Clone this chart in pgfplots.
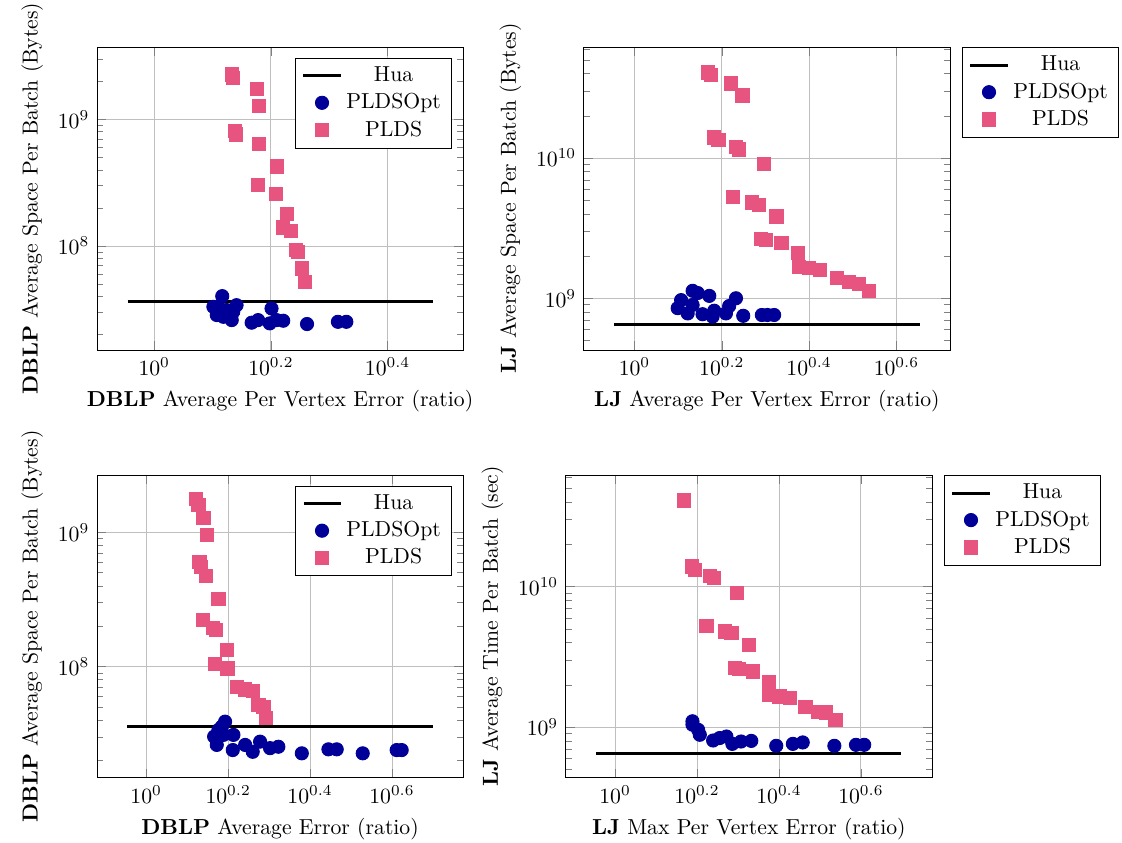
\documentclass[border=0pt]{standalone}
\usepackage{pgfplots}
\pgfplotsset{compat=1.18}
\usepackage{pgfplotstable}
\definecolor{optblue}{RGB}{0,0,153}
\definecolor{pldspink}{RGB}{231,84,128}

\pgfplotstableread{
x y
1.358 2.27e9
1.365 2.12e9
1.498 1.73e9
1.514 1.27e9
1.376 8.15e8
1.380 7.6e8
1.510 6.4e8
1.623 4.25e8
1.504 3.04e8
1.615 2.59e8
1.687 1.80e8
1.660 1.40e8
1.717 1.31e8
1.749 9.37e7
1.765 8.98e7
1.793 6.64e7
1.812 5.21e7
}\pldsA
\pgfplotstableread{
x y
1.308 4.02e7
1.288 3.31e7
1.384 3.41e7
1.263 3.31e7
1.331 3.12e7
1.280 2.85e7
1.314 2.76e7
1.358 2.60e7
1.366 3.02e7
1.469 2.48e7
1.507 2.60e7
1.589 3.21e7
1.578 2.45e7
1.621 2.60e7
1.664 2.57e7
1.828 2.42e7
2.065 2.52e7
2.135 2.52e7
}\optA
\pgfplotstableread{
x y
1.471 4.08e10
1.496 3.93e10
1.663 3.40e10
1.768 2.79e10
1.523 1.40e10
1.558 1.34e10
1.708 1.20e10
1.738 1.15e10
1.982 9.1e9
1.678 5.26e9
1.858 4.82e9
1.931 4.64e9
2.115 3.83e9
1.948 2.64e9
2.000 2.61e9
2.172 2.47e9
2.370 2.10e9
2.383 1.68e9
2.512 1.64e9
2.662 1.59e9
2.906 1.39e9
3.10 1.30e9
3.27 1.27e9
3.44 1.13e9
}\pldsB
\pgfplotstableread{
x y
1.359 1.13e9
1.396 1.09e9
1.279 9.7e8
1.484 1.04e9
1.256 8.5e8
1.324 7.8e8
1.359 8.96e8
1.432 7.7e8
1.523 8.15e8
1.510 7.4e8
1.620 7.8e8
1.648 8.8e8
1.708 1.0e9
1.775 7.5e8
1.958 7.6e8
2.017 7.6e8
2.089 7.6e8
}\optB
\pgfplotstableread{
x y
1.324 1.76e9
1.341 1.60e9
1.380 1.28e9
1.406 9.55e8
1.349 6.04e8
1.362 5.54e8
1.400 4.73e8
1.501 3.17e8
1.374 2.22e8
1.454 1.93e8
1.481 1.87e8
1.573 1.33e8
1.473 1.04e8
1.578 9.7e7
1.664 7.07e7
1.744 6.77e7
1.820 6.61e7
1.879 5.17e7
1.932 4.98e7
1.962 4.12e7
}\pldsC
\pgfplotstableread{
x y
1.558 3.89e7
1.530 3.57e7
1.501 3.37e7
1.465 3.01e7
1.633 3.10e7
1.544 3.10e7
1.487 2.61e7
1.627 2.39e7
1.744 2.61e7
1.820 2.32e7
1.897 2.76e7
2.006 2.47e7
2.102 2.53e7
2.398 2.26e7
2.785 2.42e7
2.918 2.42e7
3.377 2.26e7
4.087 2.39e7
4.204 2.39e7
}\optC
\pgfplotstableread{
x y
1.472 4.09e10
1.537 1.39e10
1.565 1.31e10
1.703 1.19e10
1.741 1.15e10
1.984 9.06e9
1.672 5.25e9
1.852 4.79e9
1.923 4.66e9
2.118 3.85e9
1.958 2.63e9
2.006 2.60e9
2.171 2.49e9
2.370 2.09e9
2.370 1.70e9
2.520 1.65e9
2.666 1.61e9
2.915 1.39e9
3.125 1.29e9
3.274 1.27e9
3.450 1.13e9
}\pldsD
\pgfplotstableread{
x y
1.545 1.10e9
1.545 1.04e9
1.595 9.57e8
1.610 8.82e8
1.735 8.03e8
1.800 8.36e8
1.870 8.57e8
1.933 7.6e8
2.030 7.9e8
2.150 7.98e8
2.474 7.36e8
2.716 7.6e8
2.871 7.78e8
3.430 7.36e8
3.873 7.48e8
4.056 7.48e8
}\optD

\pgfplotsset{
  scale only axis,
  width=168.7pt, height=139.6pt,
  legend cell align=center,
}

\begin{document}
\begin{tikzpicture}
\useasboundingbox (0,0) rectangle (517.1pt,388.5pt);

% Panel 1
\begin{loglogaxis}[at={(44.7pt,227.2pt)}, anchor=south west,
  grid=major,
  xtick={1,1.584893,2.511886},
  xticklabels={$10^{0}$,$10^{0.2}$,$10^{0.4}$},
  legend style={at={(0.97,0.965)}, anchor=north east},
  xmin=0.7978, xmax=3.384, ymin=1.51e7, ymax=3.73e9,
  xlabel={\textbf{DBLP} Average Per Vertex Error (ratio)},
  ylabel={\textbf{DBLP} Average Space Per Batch (Bytes)}]
\addplot[black, line width=1.4pt, no markers] coordinates {(0.9,3.65e7) (3,3.65e7)};
\addplot[only marks, mark=*, mark size=3.05pt, optblue] table {\optA};
\addplot[only marks, mark=square*, mark size=3.05pt, pldspink] table {\pldsA};
\legend{Hua,PLDSOpt,PLDS}
\end{loglogaxis}

% Panel 2
\begin{loglogaxis}[at={(269.1pt,227.2pt)}, anchor=south west,
  grid=major,
  xtick={1,1.584893,2.511886,3.981072},
  xticklabels={$10^{0}$,$10^{0.2}$,$10^{0.4}$,$10^{0.6}$},
  legend style={at={(1.033,1)}, anchor=north west},
  xmin=0.766, xmax=5.28, ymin=4.28e8, ymax=6.18e10,
  xlabel={\textbf{LJ} Average Per Vertex Error (ratio)},
  ylabel={\textbf{LJ} Average Space Per Batch (Bytes)}]
\addplot[black, line width=1.4pt, no markers] coordinates {(0.9,6.5e8) (4.5,6.5e8)};
\addplot[only marks, mark=*, mark size=3.05pt, optblue] table {\optB};
\addplot[only marks, mark=square*, mark size=3.05pt, pldspink] table {\pldsB};
\legend{Hua,PLDSOpt,PLDS}
\end{loglogaxis}

% Panel 3
\begin{loglogaxis}[at={(44.7pt,30.0pt)}, anchor=south west,
  grid=major,
  xtick={1,1.584893,2.511886,3.981072},
  xticklabels={$10^{0}$,$10^{0.2}$,$10^{0.4}$,$10^{0.6}$},
  legend style={at={(0.97,0.965)}, anchor=north east},
  xmin=0.7585, xmax=5.935, ymin=1.484e7, ymax=2.672e9,
  xlabel={\textbf{DBLP} Average Error (ratio)},
  ylabel={\textbf{DBLP} Average Space Per Batch (Bytes)}]
\addplot[black, line width=1.4pt, no markers] coordinates {(0.9,3.57e7) (5,3.57e7)};
\addplot[only marks, mark=*, mark size=3.05pt, optblue] table {\optC};
\addplot[only marks, mark=square*, mark size=3.05pt, pldspink] table {\pldsC};
\legend{Hua,PLDSOpt,PLDS}
\end{loglogaxis}

% Panel 4
\begin{loglogaxis}[at={(260.8pt,30.0pt)}, anchor=south west,
  grid=major,
  xtick={1,1.584893,2.511886,3.981072},
  xticklabels={$10^{0}$,$10^{0.2}$,$10^{0.4}$,$10^{0.6}$},
  legend style={at={(1.033,1)}, anchor=north west},
  xmin=0.7585, xmax=5.935, ymin=4.355e8, ymax=6.22e10,
  xlabel={\textbf{LJ} Max Per Vertex Error (ratio)},
  ylabel={\textbf{LJ} Average Time Per Batch (sec)}]
\addplot[black, line width=1.4pt, no markers] coordinates {(0.9,6.5e8) (5,6.5e8)};
\addplot[only marks, mark=*, mark size=3.05pt, optblue] table {\optD};
\addplot[only marks, mark=square*, mark size=3.05pt, pldspink] table {\pldsD};
\legend{Hua,PLDSOpt,PLDS}
\end{loglogaxis}
\end{tikzpicture}
\end{document}
